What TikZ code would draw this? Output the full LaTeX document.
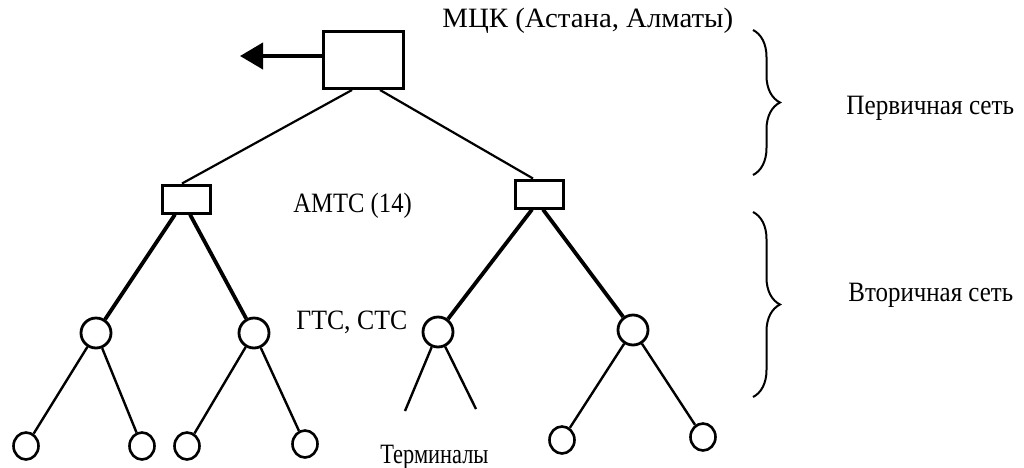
\documentclass[tikz,border=0pt]{standalone}
\usepackage{fontspec}
\setmainfont{Liberation Serif}
\usetikzlibrary{arrows.meta,decorations.pathreplacing,shapes.geometric}
\begin{document}
\begin{tikzpicture}[x=0.5pt,y=-0.5pt,
  box/.style={draw,line width=1.5pt,fill=white,inner sep=0pt},
  hub/.style={circle,draw,line width=1.4pt,fill=white,inner sep=0pt,minimum size=15pt},
  term/.style={ellipse,draw,line width=1.3pt,fill=white,inner sep=0pt,minimum width=12.5pt,minimum height=13.5pt},
  thin/.style={line width=1.1pt},
  thick/.style={line width=1.9pt},
  leafline/.style={line width=1.2pt},
  lbl/.style={font=\fontsize{14}{16}\selectfont,anchor=west,inner sep=0pt},
  brc/.style={decorate,decoration={brace,amplitude=13.5pt},line width=1pt}
]
\useasboundingbox (0,0) rectangle (1024,467);

% nodes
\node[box,minimum width=40pt,minimum height=28.5pt] (top) at (363,60) {};
\node[box,minimum width=24pt,minimum height=14pt] (amtcL) at (186,199) {};
\node[box,minimum width=24pt,minimum height=14pt] (amtcR) at (539,194) {};
\node[hub] (c1) at (96,333) {};
\node[hub] (c2) at (254,333) {};
\node[hub] (c3) at (438,332) {};
\node[hub] (c4) at (633,330) {};
\node[term] (l1) at (26,446) {};
\node[term] (l2) at (142,446) {};
\node[term] (l3) at (187,446) {};
\node[term] (l4) at (305,444) {};
\node[term] (l5) at (562,440) {};
\node[term] (l6) at (703,437) {};
\coordinate (arrowtip) at (240,56);
\coordinate (d1) at (405,411);
\coordinate (d2) at (476,409);

% connectors
\draw[line width=2pt,-{Triangle[length=11.5pt,width=13pt]}] (top.west |- arrowtip) -- (arrowtip);
\draw[thin] ([xshift=-5.5pt]top.south) -- ([xshift=-2pt]amtcL.north);
\draw[thin] ([xshift=8.5pt]top.south) -- ([xshift=-3pt]amtcR.north);
\draw[thick] ([xshift=-5.5pt]amtcL.south) -- (c1);
\draw[thick] ([xshift=2pt]amtcL.south) -- (c2);
\draw[thick] ([xshift=-3.5pt]amtcR.south) -- (c3);
\draw[thick] ([xshift=2pt]amtcR.south) -- (c4);
\draw[leafline] (c1) -- (l1);
\draw[leafline] (c1) -- (l2);
\draw[leafline] (c2) -- (l3);
\draw[leafline] (c2) -- (l4);
\draw[leafline] (c3) -- (d1);
\draw[leafline] (c3) -- (d2);
\draw[leafline] (c4) -- (l5);
\draw[leafline] (c4) -- (l6);

% labels
\node[lbl] (tMCK) at (442,21) {\scalebox{1.03}[1]{МЦК (Астана, Алматы)}};
\node[lbl] (tAMTC) at (293,206) {\scalebox{0.88}[1]{АМТС (14)}};
\node[lbl] (tGTS) at (296,322) {\scalebox{0.92}[1]{ГТС, СТС}};
\node[lbl] (tTerm) at (380,457) {\scalebox{0.8}[1]{Терминалы}};
\node[lbl] (tPrim) at (846,108) {\scalebox{0.9}[1]{Первичная сеть}};
\node[lbl] (tSec) at (848,295) {\scalebox{0.89}[1]{Вторичная сеть}};

% braces
\draw[brc] (753,30) -- (753,175);
\draw[brc] (753,212) -- (753,397);
\end{tikzpicture}
\end{document}
